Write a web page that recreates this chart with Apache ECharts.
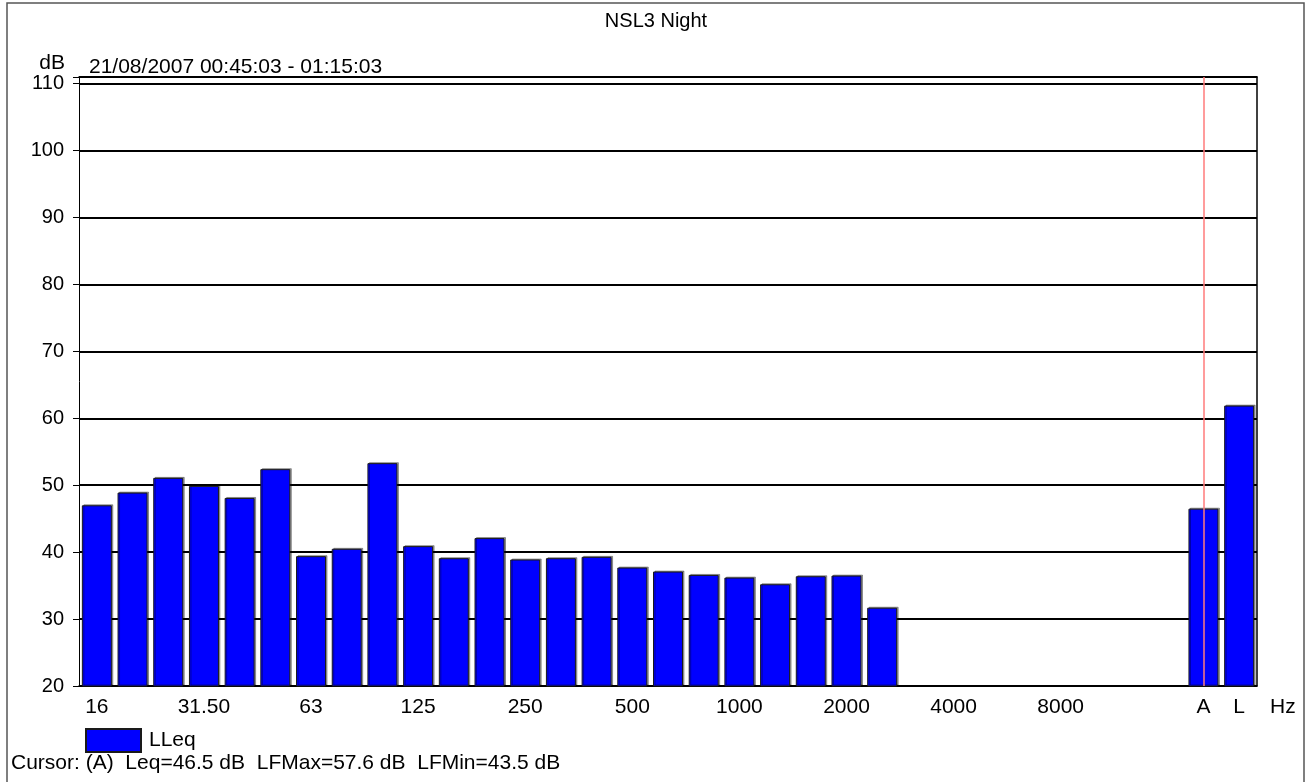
<!DOCTYPE html>
<html>
<head>
<meta charset="utf-8">
<script src="https://cdn.jsdelivr.net/npm/echarts@6/dist/echarts.min.js"></script>
<style>
  html, body { margin: 0; padding: 0; background: #fff; }
  #graph { width: 1312px; height: 782px; }
</style>
</head>
<body>
<div id="graph"></div>
<script>
"use strict"

// third-octave bands, then the A and L overall levels
const bands = ["16", "20", "25", "31.5", "40", "50", "63", "80", "100", "125", "160", "200", "250", "315", "400",
    "500", "630", "800", "1000", "1250", "1600", "2000", "2500", "3150", "4000", "5000", "6300", "8000",
    "10000", "12500", "16000", "A", "L"];
// text shown under each band ('' = tick only)
const bandLabels = ["16", "", "", "31.50", "", "", "63", "", "", "125", "", "", "250", "", "",
    "500", "", "", "1000", "", "", "2000", "", "", "4000", "", "", "8000",
    "", "", "", "A", "L"];
// LLeq per band in dB, null = no value
const lleq = [47.0, 48.9, 51.1, 49.9, 48.1, 52.4, 39.4, 40.5, 53.3, 40.9, 39.1, 42.1, 38.9, 39.1, 39.3,
    37.7, 37.1, 36.6, 36.2, 35.2, 36.4, 36.5, 31.7, null, null, null, null, null,
    null, null, null, 46.5, 61.9];
const cursorBand = "A";

const chartTitle = "NSL3 Night";
const period = "21/08/2007 00:45:03 - 01:15:03";
const cursorText = "Cursor: (A)  Leq=46.5 dB  LFMax=57.6 dB  LFMin=43.5 dB";

const font = "'Liberation Sans', Arial, sans-serif";
const fs = 21;

const myChart = echarts.init(document.getElementById("graph"), null, { renderer: "canvas" });

const option = {
    animation: false,
    backgroundColor: "#fff",
    textStyle: { fontFamily: font, color: "#000" },
    title: {
        text: chartTitle,
        left: "center",
        top: 6,
        textStyle: { fontFamily: font, fontSize: 20, fontWeight: "normal", color: "#000" }
    },
    legend: {
        data: ["LLeq"],
        left: 80,
        top: 723,
        itemWidth: 55,
        itemHeight: 23,
        icon: "rect",
        textStyle: { fontFamily: font, fontSize: fs, color: "#000", padding: [0, 0, 0, 3] }
    },
    grid: { left: 79, right: 55, top: 77, bottom: 96 },
    xAxis: [{
        type: "category",
        data: bands,
        name: "Hz",
        nameLocation: "end",
        nameGap: 13,
        nameTextStyle: { fontFamily: font, fontSize: fs, color: "#000", verticalAlign: "top", padding: [11, 0, 0, 0] },
        axisLine: { lineStyle: { color: "#000", width: 1.5 } },
        axisTick: { alignWithLabel: true, interval: 0, length: 4, lineStyle: { color: "#000" } },
        axisLabel: {
            interval: 0,
            margin: 11,
            fontFamily: font,
            fontSize: fs,
            color: "#000",
            formatter: (val, idx) => bandLabels[idx]
        },
        splitLine: { show: false }
    }, {
        type: "category",
        data: bands,
        position: "top",
        axisLine: { lineStyle: { color: "#000", width: 1.5 } },
        axisTick: { show: false },
        axisLabel: { show: false }
    }],
    yAxis: [{
        type: "value",
        min: 20,
        max: 111,
        interval: 10,
        name: "dB",
        nameLocation: "end",
        nameGap: 1,
        nameTextStyle: { fontFamily: font, fontSize: fs, color: "#000", align: "right", padding: [0, 14, 0, 0] },
        axisLine: { show: true, lineStyle: { color: "#000", width: 1 } },
        axisTick: { show: true, length: 6, lineStyle: { color: "#000" } },
        axisLabel: {
            margin: 15,
            fontFamily: font,
            fontSize: 20,
            color: "#000",
            formatter: val => (val % 10 === 0 ? String(val) : "")
        },
        splitLine: { show: true, lineStyle: { color: "#000", width: 2 } }
    }, {
        type: "value",
        min: 20,
        max: 111,
        interval: 10,
        position: "right",
        axisLine: { show: true, lineStyle: { color: "#000", width: 1.5 } },
        axisTick: { show: false },
        axisLabel: { show: false },
        splitLine: { show: false }
    }],
    series: [{
        name: "LLeq",
        type: "bar",
        data: lleq,
        barCategoryGap: "16%",
        itemStyle: {
            color: "#0000ff",
            borderColor: "#1a1a1a",
            borderWidth: 1,
            shadowColor: "rgba(0,0,0,0.35)",
            shadowOffsetX: 1.5,
            shadowOffsetY: -1
        },
        markLine: {
            silent: true,
            symbol: "none",
            label: { show: false },
            lineStyle: { color: "#ff7b7b", width: 1.5, type: "solid" },
            data: [{ xAxis: cursorBand }]
        }
    }],
    graphic: [{
        type: "rect",
        shape: { x: 7, y: 3, width: 1297, height: 800 },
        style: { fill: null, stroke: "#555", lineWidth: 1.5 },
        silent: true
    }, {
        type: "text",
        left: 89,
        top: 57,
        style: { text: period, font: `${fs}px ${font}`, fill: "#000" }
    }, {
        type: "text",
        left: 11,
        top: 753,
        style: { text: cursorText, font: `${fs}px ${font}`, fill: "#000" }
    }]
};
myChart.setOption(option);
</script>
</body>
</html>
